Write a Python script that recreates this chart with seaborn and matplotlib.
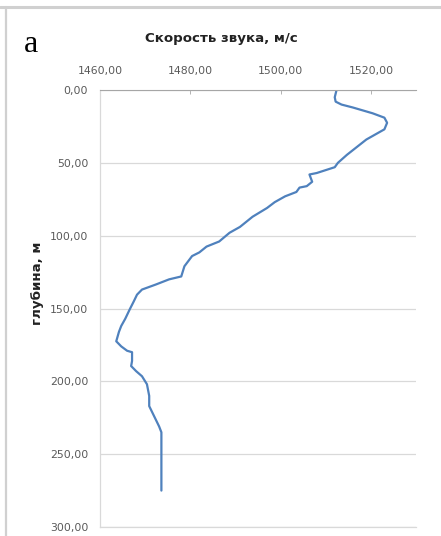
import matplotlib
matplotlib.use("Agg")
import matplotlib.pyplot as plt
import seaborn as sns
import pandas as pd
from matplotlib.lines import Line2D
from matplotlib.ticker import FuncFormatter

# Профиль скорости звука
glubina = [0, 5, 8, 10, 12, 16, 19, 22.5, 27, 34, 44.5, 50, 53, 57, 58, 63, 66,
           67, 70, 73, 77, 81, 87, 94, 98, 104, 107.5, 111.5, 114, 121, 128,
           130, 133.5, 137, 140.5, 145, 150.5, 157, 162, 166, 172.5, 176, 179,
           180, 186, 189.5, 193, 196.5, 202, 210, 217, 224, 231, 235, 275]
skorost = [1512.4, 1512.0, 1512.2, 1513.5, 1516.0, 1520.4, 1523.0, 1523.6,
           1523.0, 1519.0, 1514.7, 1512.7, 1512.0, 1508.0, 1506.4, 1507.0,
           1505.8, 1504.2, 1503.5, 1501.0, 1498.7, 1497.0, 1493.8, 1491.0,
           1488.7, 1486.4, 1483.6, 1482.0, 1480.4, 1478.7, 1478.0, 1475.3,
           1472.4, 1469.3, 1468.2, 1467.5, 1466.6, 1465.6, 1464.7, 1464.2,
           1463.6, 1464.7, 1466.0, 1467.1, 1467.1, 1466.9, 1468.0, 1469.3,
           1470.4, 1470.9, 1470.9, 1472.0, 1473.1, 1473.6, 1473.6]

metki_x = [1460, 1480, 1500, 1520]
metki_y = [0, 50, 100, 150, 200, 250, 300]

titulo = "Скорость звука, м/с"
etiqueta_y = "глубина, м"

sns.set_style("white")
plt.rcParams["font.family"] = ["DejaVu Sans"]

datos = pd.DataFrame({"skorost": skorost, "glubina": glubina})

figura = plt.figure(figsize=(4.41, 5.36), dpi=100)
area = figura.add_axes([100 / 441, 1 - 527 / 536, 316 / 441, 437 / 536])

sns.lineplot(data=datos, x="skorost", y="glubina", sort=False, estimator=None,
             color="#4F81BD", linewidth=1.6, ax=area)

area.set_xlim(1460, 1530)
area.set_ylim(300, 0)
area.set_xticks(metki_x)
area.set_yticks(metki_y)

coma = FuncFormatter(lambda v, p: f"{v:.2f}".replace(".", ","))
area.xaxis.set_major_formatter(coma)
area.yaxis.set_major_formatter(coma)

area.xaxis.tick_top()
area.tick_params(axis="x", direction="in", length=3, width=0.6, color="#a6a6a6",
                 labelsize=7.8, labelcolor="#595959", pad=10)
area.tick_params(axis="y", length=0, labelsize=7.8, labelcolor="#595959", pad=8.5)

area.grid(axis="y", color="#d9d9d9", linewidth=0.9)
area.grid(axis="x", visible=False)
area.set_xlabel("")
area.set_ylabel("")

area.spines["right"].set_visible(False)
area.spines["top"].set_color("#a6a6a6")
area.spines["top"].set_linewidth(0.8)
area.spines["left"].set_color("#d9d9d9")
area.spines["left"].set_linewidth(0.9)
area.spines["bottom"].set_color("#d9d9d9")
area.spines["bottom"].set_linewidth(0.9)

figura.text(221 / 441, 1 - 42 / 536, titulo, ha="center", va="baseline",
            fontsize=9.6, fontweight="bold", color="#222222")
figura.text(38 / 441, 1 - 283 / 536, etiqueta_y, ha="center", va="center",
            rotation=90, fontsize=9.6, fontweight="bold", color="#222222")
figura.text(24 / 441, 1 - 52 / 536, "a", ha="left", va="baseline",
            fontsize=23, family="Liberation Serif", color="black")

# рамка области диаграммы (видны только верх и левый край)
figura.add_artist(Line2D([0, 1], [1 - 6.5 / 536] * 2, color="#d0d0d0", linewidth=2.2,
                         transform=figura.transFigure))
figura.add_artist(Line2D([6 / 441] * 2, [0, 1 - 6.5 / 536], color="#d0d0d0", linewidth=1.6,
                         transform=figura.transFigure))

figura.savefig("out.png", dpi=100)
plt.close(figura)
